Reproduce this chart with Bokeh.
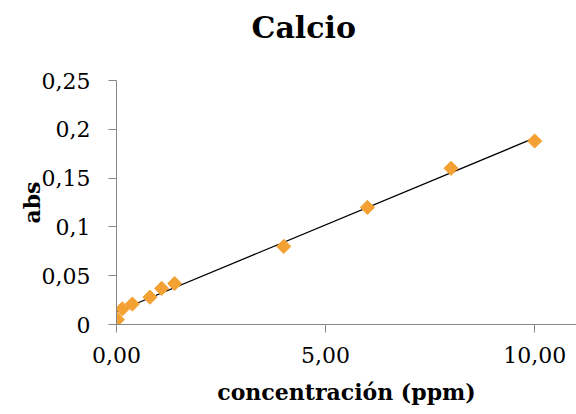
import numpy as np
from bokeh.plotting import figure
from bokeh.models import FixedTicker, Range1d, Title
from bokeh.embed import file_html
from bokeh.resources import INLINE

# data
conc = [0.02, 0.14, 0.38, 0.80, 1.08, 1.39, 4.0, 6.0, 8.0, 10.0]
absorb = [0.005, 0.016, 0.021, 0.028, 0.037, 0.042, 0.080, 0.120, 0.160, 0.188]
x_ticks = [0, 5, 10]
x_tick_labels = ["0,00", "5,00", "10,00"]
y_ticks = [0, 0.05, 0.1, 0.15, 0.2, 0.25]
y_tick_labels = ["0", "0,05", "0,1", "0,15", "0,2", "0,25"]
title_text = "Calcio"

FONT = "DejaVu Serif"

p = figure(width=576, height=410, output_backend="svg", toolbar_location=None,
           x_range=Range1d(0, 11), y_range=Range1d(0, 0.25),
           min_border_left=116, min_border_right=0, min_border_top=80, min_border_bottom=86,
           title=title_text)
p.outline_line_color = None
p.xgrid.visible = False
p.ygrid.visible = False

p.title.text_font = FONT
p.title.text_font_size = "30px"
p.title.text_font_style = "bold"
p.title.text_color = "black"
p.title.align = "left"
p.title.offset = 135
p.title.vertical_align = "top"
p.title.standoff = 18

# invisible spacer between the frame and the title
spacer = Title(text=" ", text_font_size="1px", standoff=22)
p.add_layout(spacer, "above")

# trendline (least squares)
m, b = np.polyfit(conc, absorb, 1)
xl = np.array([0.0, max(conc)])
p.line(xl, m * xl + b, line_color="black", line_width=1.3)

p.scatter(conc, absorb, marker="square", size=10, angle=np.pi / 4,
          fill_color="#F4A133", line_color="#F4A133")

for ax in (p.xaxis, p.yaxis):
    ax.axis_line_color = "#878787"
    ax.major_tick_line_color = "#878787"
    ax.major_tick_out = 8
    ax.major_tick_in = 0
    ax.minor_tick_line_color = None
    ax.major_label_text_font = FONT
    ax.major_label_text_font_size = "22px"
    ax.major_label_text_color = "black"
    ax.axis_label_text_font = FONT
    ax.axis_label_text_font_size = "22px"
    ax.axis_label_text_font_style = "bold"
    ax.axis_label_text_color = "black"

p.xaxis.ticker = FixedTicker(ticks=x_ticks)
p.xaxis.major_label_overrides = dict(zip(x_ticks, x_tick_labels))
p.yaxis.ticker = FixedTicker(ticks=y_ticks)
p.yaxis.major_label_overrides = dict(zip(y_ticks, y_tick_labels))
p.xaxis.axis_label = "concentración (ppm)"
p.yaxis.axis_label = "abs"
p.xaxis.major_label_standoff = 14
p.yaxis.major_label_standoff = 18
p.xaxis.axis_label_standoff = 13
p.yaxis.axis_label_standoff = -6

open("out.html", "w").write(file_html(p, INLINE))
